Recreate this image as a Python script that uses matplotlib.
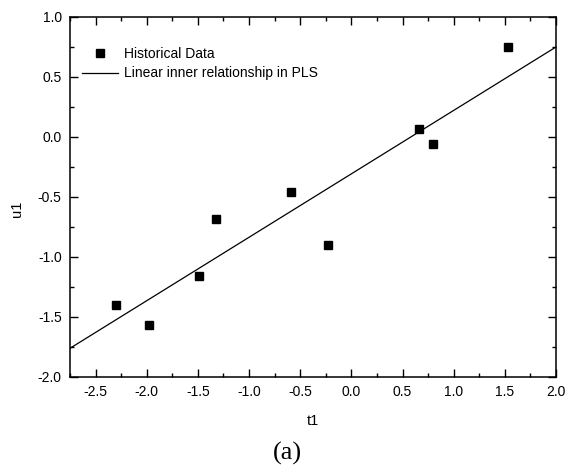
import matplotlib
matplotlib.use("Agg")
import matplotlib.pyplot as plt
from matplotlib.ticker import MultipleLocator

plt.rcParams['font.family'] = ['Liberation Sans', 'DejaVu Sans']

# Data
t1 = [-2.30, -1.98, -1.49, -1.32, -0.59, -0.23, 0.665, 0.80, 1.53]
u1 = [-1.40, -1.57, -1.16, -0.685, -0.46, -0.905, 0.063, -0.06, 0.747]
fit_x = [-2.75, 2.0]
fit_y = [-1.763, 0.750]
xticks = [-2.5, -2.0, -1.5, -1.0, -0.5, 0.0, 0.5, 1.0, 1.5, 2.0]
yticks = [-2.0, -1.5, -1.0, -0.5, 0.0, 0.5, 1.0]

fig = plt.figure(figsize=(5.67, 4.66), dpi=100)
ax = fig.add_axes([70/567, 1-376.7/466, (556-70)/567, (376.7-17)/466])

ax.plot(t1, u1, linestyle='none', marker='s', markersize=5.5, color='black',
        label='Historical Data')
ax.plot(fit_x, fit_y, color='black', linewidth=0.9,
        label='Linear inner relationship in PLS')

ax.set_xlim(-2.75, 2.0)
ax.set_ylim(-2.0, 1.0)
ax.set_xticks(xticks)
ax.set_yticks(yticks)
ax.set_xticklabels([f"{v:.1f}" for v in xticks])
ax.set_yticklabels([f"{v:.1f}" for v in yticks])
ax.xaxis.set_minor_locator(MultipleLocator(0.25))
ax.yaxis.set_minor_locator(MultipleLocator(0.25))
ax.tick_params(which='both', direction='in', top=True, right=True,
               labelsize=10, width=1.0)
ax.tick_params(which='major', length=5.5, pad=6)
ax.tick_params(which='minor', length=3)
for s in ax.spines.values():
    s.set_linewidth(1.1)

ax.set_xlabel('t1', fontsize=10.5)
ax.set_ylabel('u1', fontsize=10.5)
ax.xaxis.set_label_coords(0.5, -(421-376.7)/359.7)
ax.yaxis.set_label_coords((17-70)/486, 0.466)
ax.xaxis.label.set_va('center')
ax.yaxis.label.set_va('center')

ax.legend(loc='upper left', bbox_to_anchor=(0.0247, 0.916), frameon=False,
          fontsize=10, borderpad=0, borderaxespad=0, handlelength=2.6,
          handletextpad=0.4, labelspacing=0.38)

fig.text(287.5/567, 1-453/466, '(a)', ha='center', va='center', fontsize=19,
         family=['Liberation Serif', 'DejaVu Serif'])

fig.savefig('out.png', dpi=100)
